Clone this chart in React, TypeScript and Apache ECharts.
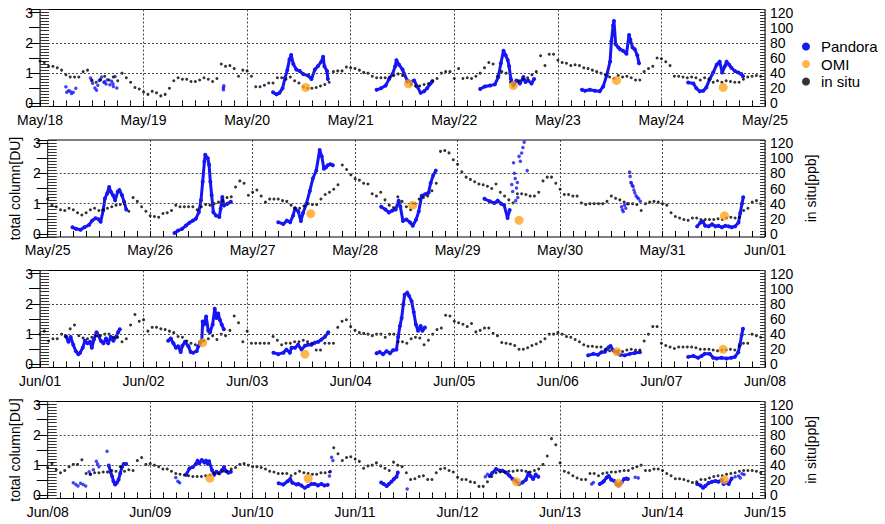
import React, { useEffect, useRef } from 'react';
import * as echarts from 'echarts';

// ---------- tick labels (one list per panel, one label per day boundary) ----------
const tickLabelsW1 = ['May/18', 'May/19', 'May/20', 'May/21', 'May/22', 'May/23', 'May/24', 'May/25'];
const tickLabelsW2 = ['May/25', 'May/26', 'May/27', 'May/28', 'May/29', 'May/30', 'May/31', 'Jun/01'];
const tickLabelsW3 = ['Jun/01', 'Jun/02', 'Jun/03', 'Jun/04', 'Jun/05', 'Jun/06', 'Jun/07', 'Jun/08'];
const tickLabelsW4 = ['Jun/08', 'Jun/09', 'Jun/10', 'Jun/11', 'Jun/12', 'Jun/13', 'Jun/14', 'Jun/15'];

// ---------- in situ NO2 [ppb], hourly, hour 0 = first day of the panel 00:00 ----------
const inSituW1 = [
  56, 54, 49, 49, 47, 44, 38, 35, 35, 35, 42, 44, 31, 28, 31, 36, 31, 35, 30, 40, 34, 28, 21, 19,
  15, 12, 16, 14, 10, 12, 20, 30, 34, 32, 32, 29, 29, 31, 34, 32, 29, 33, 52, 49, 50, 46, 36, 44,
  43, 36, 22, 22, 24, 27, 27, 34, 34, 32, 35, 30, 27, 22, 20, 20, 21, 23, 25, 28, 42, 43, 43, 48,
  47, 46, 44, 41, 40, 36, 34, 34, 34, 35, 37, 39, 37, 28, 25, 23, 23, 25, 26, 30, 33, 40, 42, 42,
  33, 46, 33, 34, 33, 36, 40, 47, 54, 52, 36, 42, 40, 28, 26, 30, 32, 34, 38, 42, 63, 50, 65, 65,
  57, 54, 53, 50, 51, 50, 47, 46, 44, 42, 40, 38, 35, 33, 37, 35, 36, 34, 31, 31, 42, 46, 49, 60,
  59, 55, 50, 36, 36, 35, 34, 35, 34, 31, 34, 32, 28, 30, 28, 30, 29, 28, 28, 32, 35, 36, 37, 36,
];
const inSituW2 = [
  46, 38, 36, 32, 31, 34, 32, 28, 25, 28, 32, 34, 31, 32, 34, 36, 38, 39, 40, 30, 48, 43, 36, 30,
  24, 23, 22, 27, 28, 31, 38, 36, 36, 36, 36, 32, 36, 39, 38, 40, 42, 44, 48, 49, 62, 70, 67, 51,
  55, 58, 50, 42, 46, 46, 46, 44, 43, 38, 34, 34, 37, 40, 39, 39, 46, 52, 55, 59, 65, 91, 85, 78,
  73, 71, 67, 66, 53, 50, 55, 45, 38, 35, 49, 43, 36, 32, 40, 46, 48, 50, 57, 67, 109, 110, 107, 98,
  92, 82, 75, 72, 69, 66, 65, 63, 60, 66, 55, 50, 45, 41, 53, 53, 52, 50, 50, 55, 70, 75, 75, 67,
  59, 52, 52, 50, 50, 41, 39, 40, 40, 40, 40, 43, 50, 47, 45, 42, 40, 40, 39, 31, 40, 42, 43, 42,
  40, 38, 28, 23, 21, 19, 18, 21, 21, 19, 19, 19, 19, 20, 19, 21, 22, 21, 22, 31, 34, 42, 44, 40,
];
const inSituW3 = [
  40, 44, 31, 34, 34, 40, 37, 47, 52, 38, 35, 34, 36, 38, 38, 40, 40, 36, 36, 30, 34, 52, 66, 57,
  59, 44, 49, 49, 47, 46, 44, 42, 37, 36, 31, 28, 26, 30, 31, 34, 38, 33, 40, 38, 45, 64, 55, 30,
  44, 28, 28, 28, 28, 28, 37, 32, 26, 28, 28, 30, 30, 32, 30, 28, 19, 19, 28, 28, 28, 49, 57, 59,
  50, 45, 42, 41, 40, 38, 40, 40, 36, 40, 40, 30, 30, 28, 34, 36, 35, 26, 32, 40, 46, 48, 65, 64,
  57, 55, 53, 50, 54, 43, 45, 48, 48, 41, 38, 29, 28, 27, 25, 20, 20, 22, 25, 27, 30, 34, 40, 40,
  42, 40, 37, 36, 33, 30, 26, 24, 24, 23, 23, 20, 18, 17, 18, 17, 19, 20, 19, 19, 31, 40, 50, 50,
  28, 25, 23, 21, 23, 23, 23, 23, 22, 20, 20, 20, 19, 18, 19, 19, 20, 19, 24, 28, 28, 40, 38, 36,
];
const inSituW4 = [
  37, 42, 34, 30, 33, 38, 41, 41, 47, 29, 28, 30, 30, 31, 31, 33, 32, 38, 32, 34, 33, 46, 50, 41,
  42, 40, 38, 35, 35, 32, 29, 28, 27, 26, 25, 25, 25, 26, 27, 29, 29, 32, 32, 35, 37, 41, 42, 40,
  38, 38, 37, 35, 32, 31, 29, 29, 29, 26, 29, 32, 30, 29, 28, 28, 30, 30, 31, 63, 55, 46, 50, 51,
  48, 45, 36, 39, 40, 43, 39, 36, 33, 44, 40, 38, 30, 21, 22, 25, 26, 21, 21, 30, 35, 36, 33, 31,
  24, 21, 21, 18, 17, 12, 12, 18, 25, 30, 31, 31, 32, 32, 33, 33, 32, 31, 33, 35, 41, 52, 75, 67,
  43, 32, 30, 26, 23, 21, 21, 29, 29, 26, 29, 30, 31, 31, 32, 33, 33, 36, 38, 40, 33, 33, 35, 35,
  33, 29, 26, 22, 22, 21, 19, 17, 18, 21, 21, 23, 25, 26, 26, 28, 29, 30, 32, 33, 33, 33, 32, 30,
];

// ---------- Pandora total column [DU]: [hour, value] ----------
// week 1
const pandoraMay18a = [[6.0, 0.55], [6.2, 0.37], [6.6, 0.42], [7.0, 0.4], [7.3, 0.33], [7.7, 0.37], [8.3, 0.5]];
const pandoraMay18b = [[11.7, 0.84], [12.0, 0.75], [12.2, 0.67], [12.7, 0.51], [13.1, 0.44], [13.4, 0.6], [13.7, 0.76], [14.0, 0.8], [14.3, 0.87], [14.8, 0.7], [15.0, 0.72], [15.3, 0.64], [15.6, 0.78], [16.2, 0.62], [16.6, 0.73], [16.9, 0.65], [17.0, 0.56], [17.4, 0.89], [17.8, 0.51]];
const pandoraMay19 = [[42.5, 0.45], [42.5, 0.52], [42.6, 0.58]];
const pandoraMay20 = [[54.0, 0.37], [54.8, 0.3], [55.5, 0.35], [56.2, 0.5], [56.8, 0.85], [57.3, 1.1], [57.8, 1.45], [58.2, 1.6], [58.7, 1.3], [59.4, 1.12], [60.2, 1.07], [61.0, 0.97], [62.1, 0.92], [62.9, 0.81], [63.7, 1.12], [64.4, 1.23], [65.2, 1.38], [65.6, 1.54], [65.9, 1.23], [66.5, 1.07], [66.7, 0.81]];
const pandoraMay21 = [[78, 0.45], [79, 0.5], [80.1, 0.59], [80.9, 0.81], [81.7, 0.97], [82.3, 1.23], [82.6, 1.43], [83.2, 1.28], [84, 1.12], [84.4, 0.97], [85.1, 0.76], [85.9, 0.71], [86.7, 0.76], [87.4, 0.56], [88.2, 0.35], [89, 0.4], [89.7, 0.5], [90.5, 0.66], [90.9, 0.73]];
const pandoraMay22 = [[102, 0.48], [103.1, 0.56], [104.3, 0.59], [105.4, 0.63], [106.2, 0.87], [106.8, 1.33], [107.4, 1.74], [107.9, 1.59], [108.4, 1.43], [108.7, 1.23], [109.1, 0.81], [109.7, 0.59], [110.4, 0.76], [111.2, 0.66], [112, 0.87], [112.5, 0.71], [113.1, 0.76], [113.9, 0.66], [114.5, 0.81]];
const pandoraMay23 = [[125.6, 0.45], [126.3, 0.42], [127.4, 0.45], [128.6, 0.42], [129.7, 0.4], [130.5, 0.56], [131.3, 0.92], [132.1, 1.38], [132.4, 2.05], [132.8, 2.57], [133, 2.72], [133.4, 1.95], [134, 1.85], [134.4, 1.79], [135.1, 1.74], [135.9, 1.64], [136.5, 2.26], [136.8, 2.1], [137.3, 1.85], [137.8, 1.79], [138.4, 1.59], [138.8, 1.33]];
const pandoraMay24 = [[150.2, 0.69], [151.4, 0.66], [152.1, 0.5], [152.9, 0.4], [153.7, 0.42], [154.4, 0.53], [155.2, 0.81], [156, 1.02], [156.8, 1.28], [157.5, 1.38], [158.1, 1.02], [158.7, 1.23], [159.1, 1.38], [159.7, 1.28], [160.2, 1.18], [161, 1.07], [161.8, 1.02], [162.5, 0.97], [162.9, 0.9]];
// week 2
const pandoraMay25 = [[5.8, 0.22], [6.6, 0.17], [7.7, 0.14], [8.6, 0.22], [9.7, 0.3], [10.4, 0.44], [11.2, 0.52], [12, 0.48], [12.4, 0.4], [13, 0.78], [13.4, 1.17], [13.9, 1.33], [14.4, 1.55], [14.8, 1.39], [15.3, 1.28], [15.8, 1.11], [16.4, 1.39], [16.8, 1.45], [17.4, 1.28], [17.9, 1.06], [18.4, 0.81]];
const pandoraMay26 = [[29.7, 0.03], [30.5, 0.11], [31.5, 0.17], [32.4, 0.28], [33.2, 0.37], [34, 0.44], [34.7, 0.5], [35.4, 0.72], [35.9, 1.11], [36.3, 1.72], [36.7, 2.39], [36.9, 2.61], [37.5, 2.5], [37.8, 2.28], [38.1, 1.72], [38.4, 1.28], [38.8, 0.72], [39.4, 0.61], [40.2, 0.56], [40.5, 0.83], [40.9, 1.22], [41.3, 0.94], [42.1, 1.0], [42.9, 1.06]];
const pandoraMay27 = [[54, 0.39], [55.2, 0.33], [56, 0.44], [56.8, 0.39], [57.5, 0.61], [57.9, 0.85], [58.7, 0.74], [59.3, 0.43], [59.8, 0.69], [60.6, 1.0], [61.4, 1.42], [62.1, 1.83], [62.9, 2.09], [63.7, 2.77], [64.2, 2.56], [64.7, 2.15], [65.2, 2.2], [65.6, 2.27], [66.2, 2.3], [66.8, 2.27]];
const pandoraMay28 = [[78.1, 0.9], [79.1, 0.81], [79.9, 0.71], [80.7, 0.77], [81.5, 0.81], [82.2, 1.1], [82.6, 0.9], [83.2, 0.43], [84, 0.48], [84.9, 0.38], [85.5, 0.27], [86.3, 0.48], [86.9, 0.74], [87.6, 1.26], [88.4, 1.31], [89.2, 1.36], [89.7, 1.68], [90.3, 1.94], [90.9, 2.09]];
const pandoraMay29 = [[102.3, 1.16], [103.5, 1.08], [104.6, 1.02], [105.4, 1.1], [106.2, 1.0], [106.9, 0.95], [107.7, 0.53], [108.2, 0.79]];
const pandoraMay29Spikes = [[108.7, 1.63], [108.9, 1.4], [109.1, 2.35], [109.3, 2.0], [109.5, 1.83], [109.6, 1.1], [109.8, 1.52], [110.0, 1.7], [110.1, 1.2], [110.4, 2.56], [110.7, 2.4], [111, 2.67], [111.3, 2.85], [111.6, 3.03], [112.3, 2.09]];
const pandoraMay30 = [[134.4, 0.9], [134.6, 0.8], [134.8, 0.74], [135.1, 0.95], [135.4, 0.85], [135.8, 1.0], [136.3, 2.04], [136.4, 1.9], [136.6, 1.7], [136.7, 1.68], [136.9, 1.6], [137.1, 1.57], [137.3, 1.45], [137.5, 1.36], [137.8, 1.26], [138.1, 1.2], [138.4, 1.16], [138.8, 1.08]];
const pandoraMay31 = [[152.1, 0.25], [152.9, 0.38], [153.5, 0.4], [154, 0.27], [154.8, 0.25], [155.6, 0.32], [156.4, 0.25], [157.1, 0.27], [157.9, 0.22], [158.7, 0.27], [159.5, 0.25], [160.2, 0.22], [161, 0.25], [161.8, 0.38], [162.2, 0.69], [162.6, 1.0], [162.9, 1.21]];
// week 3
const pandoraJun01 = [[6, 0.93], [6.6, 0.75], [7.1, 0.91], [7.7, 0.65], [8.3, 0.44], [8.9, 0.34], [9.3, 0.39], [9.9, 0.55], [10.4, 0.78], [11, 0.7], [11.6, 0.75], [12, 0.55], [12.5, 0.82], [13.1, 1.06], [13.5, 0.96], [14.1, 0.78], [14.7, 0.7], [15.3, 0.86], [15.8, 0.7], [16.4, 0.91], [17, 0.78], [17.6, 0.91], [18.1, 1.06], [18.5, 1.16]];
const pandoraJun02 = [[29.7, 0.78], [30.3, 0.86], [30.9, 0.7], [31.5, 0.55], [32, 0.6], [32.6, 0.41], [33, 0.62], [33.6, 0.75], [34.4, 0.6], [34.9, 0.41], [35.5, 0.39], [36.3, 0.44], [36.7, 0.6], [37.1, 0.7], [37.5, 0.8], [37.7, 1.42], [38, 1.32], [38.5, 1.58], [39, 1.11], [39.4, 1.06], [40, 1.32], [40.5, 1.84], [40.9, 1.53], [41.3, 1.68], [41.7, 1.47], [42.1, 1.32], [42.6, 1.16]];
const pandoraJun03 = [[54.1, 0.39], [55.2, 0.34], [56.4, 0.39], [57.1, 0.49], [57.9, 0.39], [58.3, 0.55], [59.1, 0.55], [59.8, 0.65], [60.6, 0.49], [61.4, 0.62], [62.1, 0.65], [62.9, 0.65], [63.7, 0.72], [64.5, 0.75], [65.2, 0.82], [66, 0.91], [66.8, 1.06]];
const pandoraJun04 = [[78, 0.37], [78.7, 0.41], [79.5, 0.34], [80.3, 0.44], [81.1, 0.37], [81.8, 0.47], [82.6, 0.49], [83, 0.91], [83.4, 1.27], [83.8, 1.53], [84.2, 1.99], [84.5, 2.3], [85.1, 2.37], [85.5, 2.27], [86.1, 2.09], [86.6, 1.73], [87.1, 1.32], [87.6, 1.11], [88.2, 1.27], [88.6, 1.11], [89.2, 1.22]];
const pandoraJun06 = [[127, 0.3], [128.2, 0.35], [129.3, 0.32], [130.1, 0.4], [130.9, 0.42], [131.7, 0.56], [132.2, 0.61], [132.8, 0.48], [133.6, 0.4], [134.4, 0.32], [135.5, 0.3], [136.7, 0.35], [137.8, 0.38], [139, 0.4]];
const pandoraJun07 = [[150.2, 0.25], [151.4, 0.28], [152.5, 0.22], [153.3, 0.28], [154, 0.35], [155.2, 0.35], [156, 0.22], [156.8, 0.2], [157.9, 0.22], [159.1, 0.2], [160.2, 0.22], [161, 0.25], [161.8, 0.4], [162.2, 0.66], [162.6, 0.97], [162.9, 1.18]];
// week 4
const pandoraJun08Dots = [[6, 0.42], [6.6, 0.36], [7.1, 0.31], [7.7, 0.4], [8.3, 0.36], [8.9, 0.31], [9.7, 0.78], [10.0, 0.7], [10.7, 0.85], [11.4, 1.13], [11.7, 1.04], [12.0, 0.95], [13.9, 1.46]];
const pandoraJun08 = [[14.3, 0.99], [14.7, 0.78], [15.1, 0.63], [15.4, 0.47], [15.8, 0.36], [16.2, 0.42], [16.6, 0.52], [17, 0.73], [17.4, 0.94], [17.8, 1.04], [18.4, 1.04]];
const pandoraJun09Dots = [[30, 0.59], [30.5, 0.47], [30.9, 0.42]];
const pandoraJun09 = [[32.4, 0.68], [33.2, 0.89], [34, 0.94], [34.7, 1.04], [35.1, 1.15], [35.5, 1.06], [36.1, 1.17], [36.7, 1.09], [37.1, 1.15], [37.5, 1.04], [37.8, 1.13], [38.5, 0.83], [39, 0.68], [39.5, 0.78], [40.2, 0.73], [40.8, 0.83], [41.3, 0.94], [41.7, 0.81], [42.3, 0.75], [42.9, 0.78]];
const pandoraJun10 = [[54.1, 0.4], [55.2, 0.36], [56.2, 0.47], [56.8, 0.54], [57.3, 0.42], [58.3, 0.36], [58.7, 0.38], [59.4, 0.33], [60.2, 0.25], [61, 0.31], [61.8, 0.38], [62.5, 0.38], [63.3, 0.33], [64.1, 0.38], [64.8, 0.33], [65.6, 0.35]];
const pandoraJun10Dots = [[66, 0.64], [66.2, 0.79], [66.5, 1.26], [66.8, 1.15]];
const pandoraJun11 = [[78.1, 0.43], [78.7, 0.38], [79.4, 0.31], [79.9, 0.38], [80.5, 0.45], [81.1, 0.54], [81.7, 0.62], [82, 0.76]];
const pandoraJun11Dots = [[84.2, 0.21]];
const pandoraJun12Dots = [[102.5, 0.62], [103, 0.7]];
const pandoraJun12 = [[103.5, 0.64], [104.1, 0.74], [105, 0.87], [105.9, 0.82], [106.5, 0.82], [107.3, 0.76], [108.1, 0.66], [108.9, 0.54], [109.6, 0.48], [110.4, 0.38], [111.2, 0.43], [112, 0.52], [112.6, 0.74], [113.1, 0.64], [113.7, 0.54], [114.3, 0.69], [114.9, 0.62]];
const pandoraJun13Dots = [[127.4, 0.38], [127.8, 0.43], [137.6, 0.6], [138.3, 0.58]];
const pandoraJun13 = [[129.3, 0.38], [129.9, 0.43], [130.3, 0.48], [130.9, 0.59], [131.4, 0.64], [132, 0.52], [132.7, 0.48], [133.2, 0.38], [133.7, 0.33], [134.4, 0.43], [135, 0.54], [135.5, 0.56], [135.9, 0.54]];
const pandoraJun14 = [[152.1, 0.38], [152.9, 0.33], [153.5, 0.25], [154, 0.31], [154.8, 0.41], [155.6, 0.45], [156.4, 0.48], [157.1, 0.45], [157.9, 0.52], [158.3, 0.38], [159.1, 0.43], [159.5, 0.38], [160.2, 0.56]];
const pandoraJun14Dots = [[161, 0.62], [161.8, 0.64], [162.2, 0.58], [162.6, 0.72], [163.1, 0.69]];

// ---------- OMI overpass [DU]: [hour, value] ----------
const omiW1 = [[61.6, 0.53], [85.4, 0.65], [109.7, 0.59], [133.6, 0.76], [158.3, 0.53]];
const omiW2 = [[61.6, 0.67], [85.5, 0.95], [110.4, 0.45], [158.5, 0.6]];
const omiW3 = [[37.7, 0.72], [61.4, 0.34], [133.7, 0.42], [158.3, 0.5]];
const omiW4 = [[38, 0.57], [61, 0.56], [109.8, 0.45], [133.7, 0.4], [158.5, 0.52]];

const panels = [
  { labels: tickLabelsW1, inSitu: inSituW1, omi: omiW1,
    lines: [pandoraMay20, pandoraMay21, pandoraMay22, pandoraMay23, pandoraMay24],
    dots: [pandoraMay18a, pandoraMay18b, pandoraMay19] },
  { labels: tickLabelsW2, inSitu: inSituW2, omi: omiW2,
    lines: [pandoraMay25, pandoraMay26, pandoraMay27, pandoraMay28, pandoraMay29, pandoraMay31],
    dots: [pandoraMay29Spikes, pandoraMay30] },
  { labels: tickLabelsW3, inSitu: inSituW3, omi: omiW3,
    lines: [pandoraJun01, pandoraJun02, pandoraJun03, pandoraJun04, pandoraJun06, pandoraJun07],
    dots: [] as number[][][] },
  { labels: tickLabelsW4, inSitu: inSituW4, omi: omiW4,
    lines: [pandoraJun08, pandoraJun09, pandoraJun10, pandoraJun11, pandoraJun12, pandoraJun13, pandoraJun14],
    dots: [pandoraJun08Dots, pandoraJun09Dots, pandoraJun10Dots, pandoraJun11Dots, pandoraJun12Dots, pandoraJun13Dots, pandoraJun14Dots] },
];

const BLUE = '#1515f5';
const ORANGE = '#ffa21c';
const FONT = 'Liberation Sans, Arial, sans-serif';
const GRID_TOPS = [9.5, 140, 270.5, 401.5];

function buildOption() {
  const grid: any[] = [];
  const xAxis: any[] = [];
  const yAxis: any[] = [];
  const series: any[] = [];
  const txt = { fontFamily: FONT, fontSize: 14, color: '#000' };

  panels.forEach((p, i) => {
    grid.push({ left: 40, top: GRID_TOPS[i], width: 725, height: 97, show: true, borderColor: '#000', borderWidth: 1 });
    const xi = i * 3;
    const yi = i * 4;
    xAxis.push({
      gridIndex: i, type: 'value', min: 0, max: 168, interval: 24, position: 'bottom',
      axisLine: { show: false }, axisTick: { show: false },
      axisLabel: { ...txt, margin: 6, formatter: (v: number) => p.labels[Math.round(v / 24)] ?? '' },
      splitLine: { show: true, lineStyle: { type: [2, 2], color: '#444', width: 1 } },
    });
    ['bottom', 'top'].forEach((pos) => xAxis.push({
      gridIndex: i, type: 'value', min: 0, max: 168, interval: 3, position: pos,
      axisLine: { show: false }, axisLabel: { show: false }, splitLine: { show: false },
      axisTick: { show: true, inside: true, length: 3, lineStyle: { color: '#000' } },
    }));
    const named = i % 2 === 1;
    yAxis.push({
      gridIndex: i, type: 'value', min: -0.1, max: 3.1, splitNumber: 3, position: 'left',
      axisLine: { show: false }, axisTick: { show: false }, splitLine: { show: false },
      axisLabel: { ...txt, margin: 7, formatter: (v: number) => (Math.abs(v - Math.round(v)) < 1e-6 ? String(Math.round(v)) : '') },
      name: named ? 'total column[DU]' : '', nameLocation: 'middle', nameGap: 22, nameRotate: 90,
      nameTextStyle: { ...txt },
    });
    yAxis.push({
      gridIndex: i, type: 'value', min: -0.1, max: 3.1, interval: 0.1, position: 'left',
      axisLine: { show: false }, axisLabel: { show: false }, splitLine: { show: false },
      axisTick: { show: true, inside: true, length: 9, lineStyle: { color: '#333', width: 1 } },
    });
    yAxis.push({
      gridIndex: i, type: 'value', min: -4, max: 124, splitNumber: 6, position: 'right',
      axisLine: { show: false }, splitLine: { show: false },
      axisTick: { show: true, inside: true, length: 11, lineStyle: { color: '#000' } },
      axisLabel: { ...txt, margin: 5, formatter: (v: number) => (Math.abs(v % 20) < 1e-6 ? String(Math.round(v)) : '') },
      name: named ? 'in situ[ppb]' : '', nameLocation: 'middle', nameGap: 32, nameRotate: 90,
      nameTextStyle: { ...txt },
    });
    yAxis.push({
      gridIndex: i, type: 'value', min: -4, max: 124, interval: 4, position: 'right',
      axisLine: { show: false }, axisLabel: { show: false }, splitLine: { show: false },
      axisTick: { show: true, inside: true, length: 5, lineStyle: { color: '#333' } },
    });

    p.lines.forEach((seg) => series.push({
      type: 'line', name: 'Pandora', xAxisIndex: xi, yAxisIndex: yi, data: seg,
      symbol: 'circle', symbolSize: 4, showSymbol: true,
      lineStyle: { color: BLUE, width: 3 }, itemStyle: { color: BLUE }, z: 2,
    }));
    p.dots.forEach((seg) => series.push({
      type: 'scatter', name: 'Pandora', xAxisIndex: xi, yAxisIndex: yi, data: seg,
      symbol: 'circle', symbolSize: 3.5, itemStyle: { color: BLUE }, z: 2,
    }));
    series.push({
      type: 'scatter', name: 'in situ', xAxisIndex: xi, yAxisIndex: yi + 2,
      data: p.inSitu.map((v, h) => [h, v]),
      symbol: 'circle', symbolSize: 3, itemStyle: { color: '#000' }, z: 3,
    });
    series.push({
      type: 'scatter', name: 'OMI', xAxisIndex: xi, yAxisIndex: yi, data: p.omi,
      symbol: 'circle', symbolSize: 9, itemStyle: { color: ORANGE }, z: 4,
      markLine: {
        silent: true, symbol: 'none', label: { show: false },
        lineStyle: { type: [2, 2], color: '#444', width: 1 },
        data: [{ yAxis: 1 }, { yAxis: 2 }],
      },
    });
  });

  return {
    animation: false,
    backgroundColor: '#fff',
    legend: {
      data: [
        { name: 'Pandora', itemStyle: { color: BLUE } },
        { name: 'OMI', itemStyle: { color: ORANGE } },
        { name: 'in situ', itemStyle: { color: '#000' } },
      ],
      orient: 'vertical', left: 797, top: 34, itemWidth: 20, itemHeight: 8, itemGap: 2.5,
      icon: 'circle', selectedMode: false,
      textStyle: { fontFamily: FONT, fontSize: 15, color: '#000', lineHeight: 15 },
    },
    grid, xAxis, yAxis, series,
  };
}

export default function App() {
  const ref = useRef<HTMLDivElement>(null);
  useEffect(() => {
    if (!ref.current) return;
    const chart = echarts.init(ref.current, null, { renderer: 'svg' });
    chart.setOption(buildOption() as any);
    return () => chart.dispose();
  }, []);
  return <div ref={ref} style={{ position: 'fixed', left: 0, top: 0, width: 885, height: 524, background: '#fff' }} />;
}
